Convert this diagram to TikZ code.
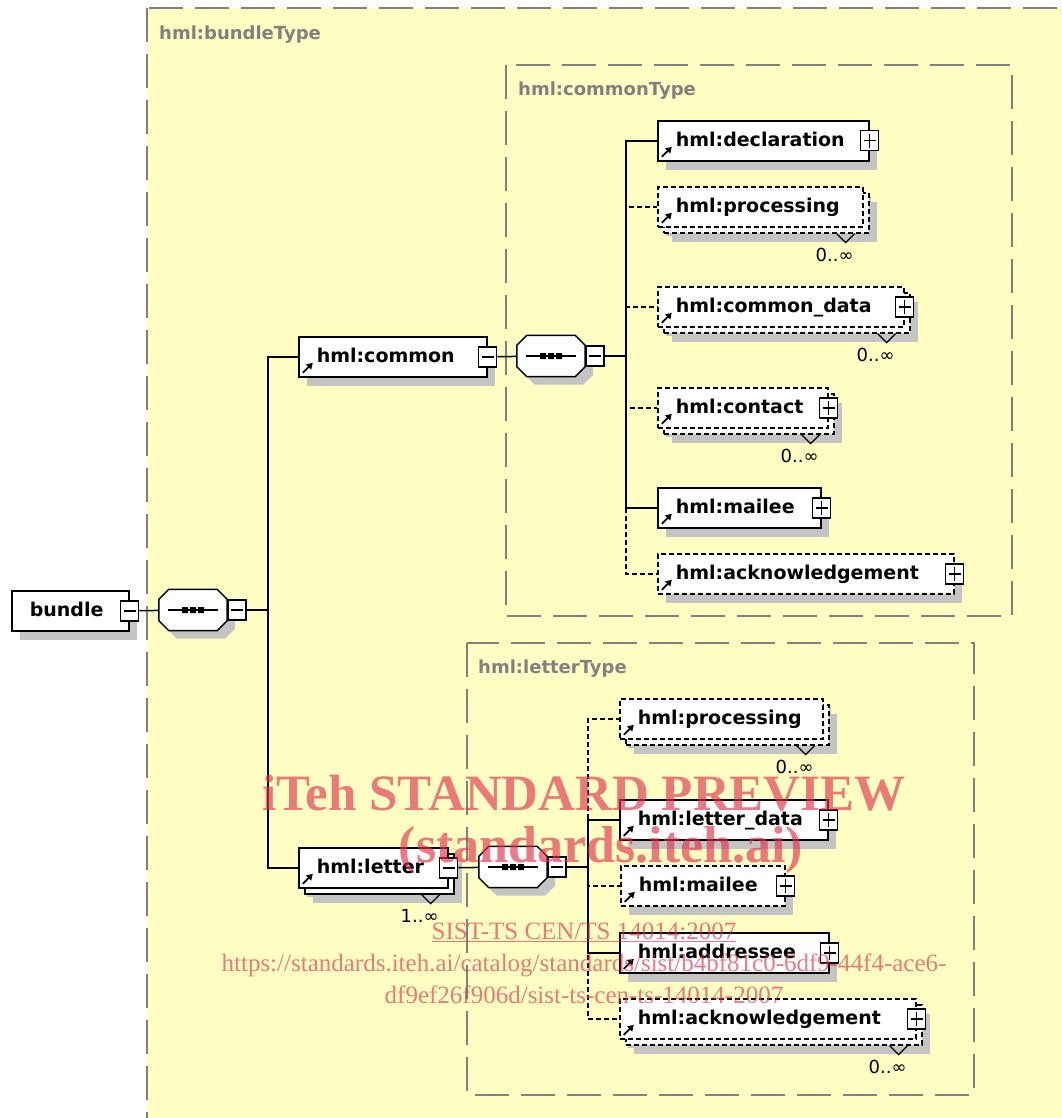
\documentclass[tikz,border=0pt]{standalone}
\usepackage{fontspec}
\setmainfont{DejaVu Sans}
\newfontfamily\wmfont{Liberation Serif}
\usetikzlibrary{positioning,shadows,arrows.meta}

\definecolor{typeyellow}{RGB}{255,255,196}
\definecolor{typegray}{RGB}{128,128,128}
\definecolor{shadowgray}{RGB}{196,196,196}
\definecolor{wmred}{RGB}{225,50,75}

\tikzset{
  typebox/.style={draw=typegray, line width=1.6pt, dash pattern=on 34pt off 12pt},
  typelabel/.style={anchor=west, inner sep=0pt, text=typegray, font=\fontsize{18}{20}\selectfont\bfseries},
  elem/.style={draw, fill=white, line width=1.6pt, anchor=north west, minimum height=40pt,
    inner xsep=18pt, inner ysep=0pt, align=left, text height=15pt, text depth=3pt,
    font=\fontsize{19}{22}\selectfont\bfseries,
    drop shadow={shadow xshift=8pt, shadow yshift=-9pt, fill=shadowgray, opacity=1}},
  ref/.style={path picture={\draw[solid, line width=1.8pt, -{Triangle[length=6pt,width=7pt]}]
    ([xshift=4pt,yshift=4pt]path picture bounding box.south west) -- ++(10pt,10pt);}},
  optional/.style={dash pattern=on 5pt off 3pt},
  many/.style={drop shadow={shadow xshift=14pt, shadow yshift=-15pt, fill=shadowgray, opacity=1},
    copy shadow={shadow xshift=6pt, shadow yshift=-6pt, line width=1.6pt}},
  expbox/.style={draw, solid, fill=white, line width=1.4pt, minimum width=18pt, minimum height=20pt, inner sep=0pt},
  minusbox/.style={expbox, path picture={\draw[line width=1.4pt]
    ([xshift=3pt]path picture bounding box.west) -- ([xshift=-3pt]path picture bounding box.east);}},
  plusbox/.style={expbox, path picture={\draw[line width=1.4pt]
    ([xshift=3pt]path picture bounding box.west) -- ([xshift=-3pt]path picture bounding box.east)
    ([yshift=-3pt]path picture bounding box.north) -- ([yshift=3pt]path picture bounding box.south);}},
  seqbox/.style={minimum width=68pt, minimum height=41pt, inner sep=0pt,
    append after command={\pgfextra{\let\seqnode\tikzlastnode
      \draw[line width=1.5pt, fill=white, drop shadow={shadow xshift=8pt, shadow yshift=-8pt, fill=shadowgray, opacity=1}]
        ([xshift=10pt]\seqnode.north west) -- ([xshift=-10pt]\seqnode.north east)
        -- ([yshift=-10pt]\seqnode.north east) -- ([yshift=10pt]\seqnode.south east)
        -- ([xshift=-10pt]\seqnode.south east) -- ([xshift=10pt]\seqnode.south west)
        -- ([yshift=10pt]\seqnode.south west) -- ([yshift=-10pt]\seqnode.north west) -- cycle;
      \draw[line width=1.4pt] ([xshift=9pt]\seqnode.west) -- ([xshift=-9pt]\seqnode.east);
      \fill (\seqnode.center) +(-3pt,-3pt) rectangle +(3pt,3pt)
        +(-11pt,-3pt) rectangle +(-5pt,3pt) +(5pt,-3pt) rectangle +(11pt,3pt);}}},
  conn/.style={line width=1.5pt},
  notch/.style={line width=1.3pt},
  mult/.style={inner sep=0pt, font=\fontsize{18}{20}\selectfont},
  wm/.style={inner sep=0pt, text=wmred, text opacity=0.65, font=\wmfont\fontsize{25}{28}\selectfont}
}

\begin{document}
\begin{tikzpicture}[x=1pt,y=-1pt]
\useasboundingbox (0,0) rectangle (1061,1118);
% complex types
\draw[typebox, fill=typeyellow] (147,8) rectangle (1080,1140);
\node[typelabel] (bundleT) at (159,35) {hml:bundleType};
\draw[typebox] (506,65) rectangle (1012,616);
\node[typelabel] (commonT) at (518,91) {hml:commonType};
\draw[typebox] (467,643) rectangle (974,1095);
\node[typelabel] (letterT) at (478,669) {hml:letterType};

% root element
\node[elem, text width=81pt] (bundle) at (11,590) {bundle};
\node[minusbox] (bundle-x) at (bundle.east) {};
\node[seqbox] (seqB) at (193,610) {};
\node[minusbox, anchor=west] (seqB-x) at (seqB.east) {};
\coordinate (spineB) at (268,610);

\node[elem, ref, text width=152pt] (common) at (298,336) {hml:common};
\node[minusbox] (common-x) at (common.east) {};
\node[elem, ref, many, text width=113pt] (letter) at (298,847) {hml:letter};
\node[minusbox] (letter-x) at (letter.east) {};

% hml:commonType
\node[seqbox] (seqC) at (551,356) {};
\node[minusbox, anchor=west] (seqC-x) at (seqC.east) {};
\coordinate (spineC) at (626,356);
\node[elem, ref, text width=175pt] (decl) at (657,120) {hml:declaration};
\node[elem, ref, optional, many, text width=169pt] (procC) at (657,186) {hml:processing};
\node[elem, ref, optional, many, text width=210pt] (cdata) at (657,286) {hml:common\_data};
\node[elem, ref, optional, many, text width=134pt] (contact) at (657,387) {hml:contact};
\node[elem, ref, text width=127pt] (mailC) at (657,487) {hml:mailee};
\node[elem, ref, optional, text width=260pt] (ackC) at (657,553) {hml:acknowledgement};

% hml:letterType
\node[seqbox] (seqL) at (513,867) {};
\node[minusbox, anchor=west] (seqL-x) at (seqL.east) {};
\coordinate (spineL) at (588,867);
\node[elem, ref, optional, many, text width=167pt] (procL) at (619,698) {hml:processing};
\node[elem, ref, text width=172pt] (ldata) at (619,799) {hml:letter\_data};
\node[elem, ref, optional, text width=128pt] (mailL) at (620,865) {hml:mailee};
\node[elem, ref, text width=173pt] (addr) at (619,932) {hml:addressee};
\node[elem, ref, optional, many, text width=260pt] (ackL) at (619,998) {hml:acknowledgement};

\foreach \n in {decl, cdata, contact, mailC, ackC, ldata, mailL, addr, ackL}
  \node[plusbox] (\n-x) at (\n.east) {};

% connectors
\draw[conn] (bundle-x) -- (seqB);
\draw[conn] (seqB-x) -- (spineB);
\draw[conn] (spineB) |- (common);
\draw[conn] (spineB) |- (letter);
\draw[conn] (common-x) -- (seqC);
\draw[conn] (seqC-x) -- (spineC);
\draw[conn] (letter-x) -- (seqL);
\draw[conn] (seqL-x) -- (spineL);
\foreach \n in {procC, cdata, contact, ackC}
  \draw[conn, optional] (spineC) |- (\n);
\foreach \n in {procL, mailL, ackL}
  \draw[conn, optional] (spineL) |- (\n);
\foreach \n in {decl, mailC}
  \draw[conn] (spineC) |- (\n);
\foreach \n in {ldata, addr}
  \draw[conn] (spineL) |- (\n);

% occurrences
\foreach \n/\m in {procC/0, cdata/0, contact/0, letter/1, procL/0, ackL/0} {
  \draw[notch] ([xshift=-27pt,yshift=-6pt]\n.south east) -- ++(9pt,-9pt) -- ++(9pt,9pt);
  \node[mult] (\n-m) at ([xshift=-29pt,yshift=-27pt]\n.south east) {\m..∞};
}

% watermark
\node[wm, font=\wmfont\fontsize{51}{55}\selectfont\bfseries] (wm1) at (584,793) {iTeh STANDARD PREVIEW};
\node[wm, font=\wmfont\fontsize{52}{56}\selectfont\bfseries] (wm2) at (601,850) {(standards.iteh.ai)};
\node[wm] (wm3) at (584,932) {\underline{SIST-TS CEN/TS 14014:2007}};
\node[wm] (wm4) at (584,965) {https://standards.iteh.ai/catalog/standards/sist/b4bf81c0-6df9-44f4-ace6-};
\node[wm] (wm5) at (584,995) {df9ef26f906d/sist-ts-cen-ts-14014-2007};
\end{tikzpicture}
\end{document}
